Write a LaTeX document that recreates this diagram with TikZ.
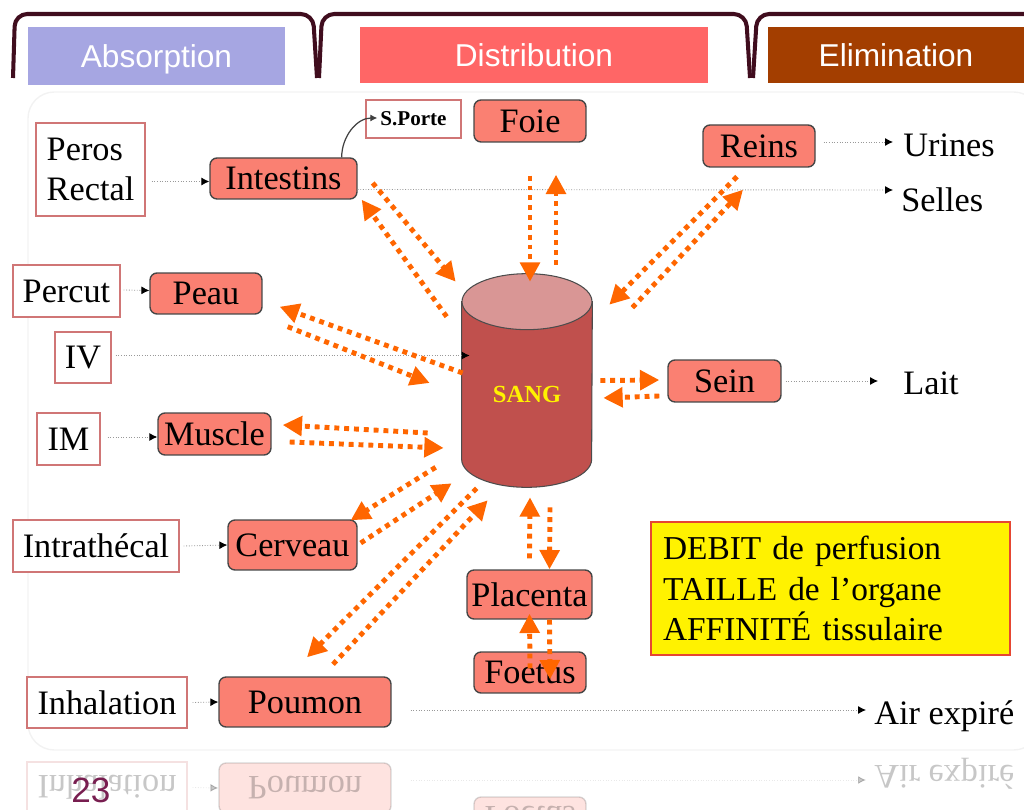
\documentclass[tikz,border=0pt]{standalone}
\usepackage{fontspec}
\setmainfont{Liberation Serif}
\newfontfamily\headfont{Liberation Sans}
\usetikzlibrary{positioning,arrows.meta,calc}
\definecolor{salmonfill}{RGB}{250,128,114}
\definecolor{organgrey}{RGB}{70,70,70}
\definecolor{entryred}{RGB}{208,118,118}
\definecolor{fluxorange}{RGB}{255,102,0}
\definecolor{tabmaroon}{RGB}{64,13,30}
\definecolor{absorbblue}{RGB}{166,166,226}
\definecolor{distribred}{RGB}{255,102,102}
\definecolor{elimbrown}{RGB}{163,62,0}
\definecolor{sangbody}{RGB}{192,80,77}
\definecolor{sangtop}{RGB}{217,150,149}
\definecolor{infoborder}{RGB}{230,70,50}
\definecolor{pagepurple}{RGB}{120,30,80}

\begin{document}
\begin{tikzpicture}[x=0.02cm,y=0.02cm,
  organ/.style={rectangle,rounded corners=4pt,draw=organgrey,line width=0.8pt,fill=salmonfill,inner sep=0pt,font=\fontsize{19.5}{23}\selectfont},
  entry/.style={rectangle,draw=entryred,line width=0.7pt,fill=white,inner sep=0pt,font=\fontsize{19.5}{23}\selectfont},
  outtext/.style={anchor=west,inner sep=0pt,font=\fontsize{19.5}{23}\selectfont},
  phase/.style={rectangle,inner sep=0pt,text=white,minimum height=1.12cm,text depth=0pt,font=\headfont\fontsize{18}{21}\selectfont},
  tabline/.style={draw=tabmaroon,line width=2.3pt,rounded corners=7pt},
  flux/.style={draw=fluxorange,line width=2.8pt,dash pattern=on 2.8pt off 2.8pt,-{Triangle[length=11pt,width=11pt]}},
  feed/.style={draw=gray!80,line width=0.5pt,densely dotted,-{Latex[length=4.5pt,width=4.5pt,color=black]}}]
\useasboundingbox (0,0) rectangle (1024,-810);

% Phase tabs
\draw[tabline] (13,-78) -- (15,-14) -- (313,-14) -- (317,-78);
\draw[tabline] (319,-78) -- (322,-14) -- (746,-14) -- (750,-78);
\draw[tabline] (753,-78) -- (757,-14) -- (1024,-14);
\node[phase,fill=absorbblue,minimum width=5.14cm,minimum height=1.16cm] (absorption) at (156.5,-56) {Absorption};
\node[phase,fill=distribred,minimum width=6.96cm] (distribution) at (534,-55) {Distribution};
\node[phase,fill=elimbrown,minimum width=5.12cm] (elimination) at (896,-55) {Elimination};

% faint slide panel
\draw[black!5,line width=0.8pt,rounded corners=15pt] (28,-92) rectangle (1040,-750);

% Entry routes
\node[entry,minimum width=2.18cm,minimum height=1.86cm,align=left] (peros) at (90.5,-169.5) {Peros\\Rectal};
\node[entry,minimum width=2.14cm,minimum height=1.04cm] (percut) at (66.5,-291) {Percut};
\node[entry,minimum width=1.12cm,minimum height=1.02cm] (iv) at (83,-357.5) {IV};
\node[entry,minimum width=1.26cm,minimum height=1.04cm] (im) at (68.5,-439) {IM};
\node[entry,minimum width=3.32cm,minimum height=1.04cm] (intrath) at (96,-546) {Intrath\'ecal};
\node[entry,minimum width=3.2cm,minimum height=1.02cm] (inhal) at (107,-702.5) {Inhalation};
\node[entry,minimum width=1.9cm,minimum height=0.76cm,font=\fontsize{12}{14}\selectfont\bfseries] (sporte) at (413.5,-119) {S.Porte};

% Organs
\node[organ,minimum width=2.94cm,minimum height=0.82cm] (intestins) at (283.5,-178.5) {Intestins};
\node[organ,minimum width=2.24cm,minimum height=0.84cm] (foie) at (530,-121) {Foie};
\node[organ,minimum width=2.24cm,minimum height=0.84cm] (reins) at (759,-146) {Reins};
\node[organ,minimum width=2.24cm,minimum height=0.82cm] (peau) at (206,-293.5) {Peau};
\node[organ,minimum width=2.26cm,minimum height=0.84cm] (muscle) at (214.5,-434) {Muscle};
\node[organ,minimum width=2.58cm,minimum height=1.0cm] (cerveau) at (292.5,-545) {Cerveau};
\node[organ,minimum width=3.44cm,minimum height=1.0cm] (poumon) at (305,-702) {Poumon};
\node[organ,minimum width=2.26cm,minimum height=0.84cm] (sein) at (724.5,-381) {Sein};
\node[organ,minimum width=2.5cm,minimum height=0.98cm] (placenta) at (529.5,-594.5) {Placenta};
\node[organ,minimum width=2.24cm,minimum height=0.82cm] (foetus) at (530,-672.5) {Foetus};

% Blood compartment
\node[minimum width=2.6cm,minimum height=4.26cm,inner sep=0pt] (sang) at (527,-380.5) {};
\filldraw[fill=sangbody,draw=black!70,line width=0.6pt] ($(sang.north west)+(0,-28)$) -- ($(sang.south west)+(0,28)$)
  arc[start angle=180,end angle=360,x radius=1.3cm,y radius=0.56cm] -- ($(sang.north east)+(0,-28)$) -- cycle;
\filldraw[fill=sangtop,draw=black!70,line width=0.6pt] ($(sang.north)+(0,-28)$) ellipse[x radius=1.3cm,y radius=0.56cm];
\node[text=yellow,font=\fontsize{14}{16}\selectfont\bfseries] (sanglabel) at ($(sang.center)+(0,-14)$) {SANG};

% Outputs
\node[outtext] (urines) at (903,-145) {Urines};
\node[outtext] (selles) at (901,-200) {Selles};
\node[outtext] (lait) at (903,-383) {Lait};
\node[outtext] (air) at (874,-716) {Air expir\'e};
\node[draw=infoborder,line width=0.8pt,fill=yellow,inner xsep=0.24cm,inner ysep=0pt,text width=6.7cm,minimum height=2.66cm,align=left,font=\fontsize{19}{23}\selectfont] (info) at (830.5,-588.5)
  {DEBIT de perfusion\\TAILLE de l’organe\\AFFINIT\'E tissulaire};

% Thin routes
\draw[feed] ($(peros.east |- intestins.west)+(6,-3)$) -- ($(intestins.west)+(0,-3)$);
\draw[feed] ($(intestins.east)+(0,-11)$) -- ($(selles.west)+(-8,10)$);
\draw[feed] ($(reins.east)+(8,4)$) -- ($(urines.west)+(-10,3)$);
\draw[feed] ($(percut.east)+(3,1)$) -- ($(peau.west)+(0,3)$);
\draw[feed] ($(iv.east)+(4,2)$) -- ($(sang.west)+(8,25)$);
\draw[feed] ($(im.east)+(7,2)$) -- ($(muscle.west)+(0,-3)$);
\draw[feed] ($(intrath.east)+(4,0)$) -- (cerveau.west);
\draw[feed] ($(inhal.east)+(5,0)$) -- (poumon.west);
\draw[feed] ($(poumon.east)+(19,-8)$) -- ($(air.west)+(-8,6)$);
\draw[feed] ($(sein.east)+(4,0)$) -- ($(lait.west)+(-25,2)$);
\draw[black!75,line width=0.7pt,-{Latex[length=4pt,width=4pt]}] ($(intestins.north east)+(-16,0)$) to[out=90,in=180] ($(sporte.west)+(12,1)$);

% Exchanges with the blood (orange)
\draw[flux] ($(intestins.east)+(15,-4.5)$) -- ($(sang.north west)+(-6,-8)$);
\draw[flux] ($(sang.north west)+(-15,-43)$) -- ($(intestins.south east)+(4,0)$);
\draw[flux] ($(foie.south)+(0,-33)$) -- ($(sang.north)+(3,-8)$);
\draw[flux] ($(sang.north)+(29,9)$) -- ($(foie.south)+(26,-32)$);
\draw[flux] ($(reins.south)+(-22,-9)$) -- ($(sang.north east)+(17,-31)$);
\draw[flux] ($(sang.north east)+(40,-34)$) -- ($(reins.south)+(-16,-22)$);
\draw[flux] ($(sang.west)+(1,7.5)$) -- ($(peau.south east)+(17,8)$);
\draw[flux] ($(peau.south east)+(25,-12)$) -- ($(sang.west)+(-32,-2.5)$);
\draw[flux] ($(sang.west)+(-34,-52.5)$) -- ($(muscle.east)+(11,9)$);
\draw[flux] ($(muscle.east)+(18,-8)$) -- ($(sang.west)+(-18,-67.5)$);
\draw[flux] ($(sang.south west)+(-26,20)$) -- ($(cerveau.north east)+(-7,-1)$);
\draw[flux] ($(cerveau.east)+(3,2)$) -- ($(sang.south west)+(-10,4)$);
\draw[flux] ($(sang.south west)+(15,-1)$) -- ($(poumon.north)+(2,19)$);
\draw[flux] ($(poumon.north)+(28,12)$) -- ($(sang.south west)+(26,-13)$);
\draw[flux] ($(sang.south)+(23,-20)$) -- ($(placenta.north)+(20,0)$);
\draw[flux] ($(placenta.north)+(0,11)$) -- ($(sang.south)+(3,-10)$);
\draw[flux] ($(placenta.south)+(20,0)$) -- ($(foetus.north)+(20,-28)$);
\draw[flux] ($(foetus.north)+(0,-17)$) -- ($(placenta.south)+(0,6)$);
\draw[flux] ($(sang.east)+(8,0)$) -- ($(sein.west)+(-8,1)$);
\draw[flux] ($(sein.west)+(-8,-15)$) -- ($(sang.east)+(11,-17.5)$);

% Reflection of the bottom row
\begin{scope}
\clip (0,-752) rectangle (1024,-810);
\begin{scope}[shift={(0,-1490)},yscale=-1,transform shape,opacity=0.22]
\node[entry,minimum width=3.2cm,minimum height=1.02cm] (inhalR) at (107,-702.5) {Inhalation};
\node[organ,minimum width=3.44cm,minimum height=1.0cm] (poumonR) at (305,-702) {Poumon};
\node[organ,minimum width=2.24cm,minimum height=0.82cm] (foetusR) at (530,-672.5) {Foetus};
\node[outtext] (airR) at (874,-716) {Air expir\'e};
\draw[feed] ($(inhalR.east)+(5,0)$) -- (poumonR.west);
\draw[feed] ($(poumonR.east)+(19,-8)$) -- ($(airR.west)+(-8,6)$);
\end{scope}
\end{scope}
\node[text=pagepurple,font=\headfont\fontsize{20}{22}\selectfont,inner sep=0pt] (pagenum) at (91,-790) {23};
\end{tikzpicture}
\end{document}
